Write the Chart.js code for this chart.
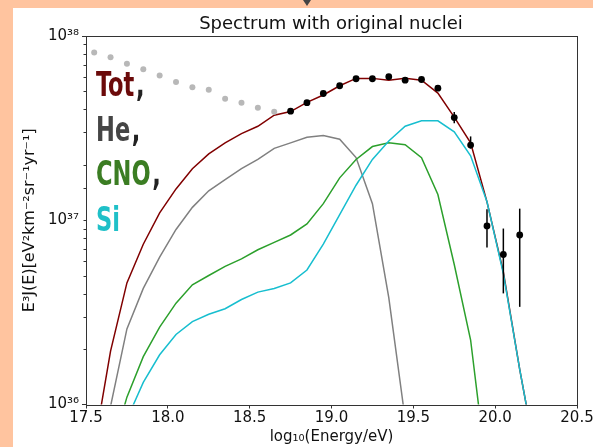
<!DOCTYPE html>
<html><head><meta charset="utf-8">
<script src="https://cdn.jsdelivr.net/npm/chart.js@4/dist/chart.umd.min.js"></script>
<style>
html,body{margin:0;padding:0;}
body{width:593px;height:447px;background:#FFC49F;position:relative;overflow:hidden;}
#panel{position:absolute;left:13px;top:8px;width:580px;height:439px;background:#fff;}
#c{position:absolute;left:0;top:0;}
#title{position:absolute;left:118px;top:6px;width:400px;text-align:center;font-family:'DejaVu Sans';font-size:18px;line-height:18px;color:#111;white-space:nowrap;}
.leg{position:absolute;left:83px;font-family:'DejaVu Sans Condensed','DejaVu Sans',sans-serif;font-weight:bold;font-size:33px;line-height:34px;font-stretch:condensed;white-space:nowrap;transform:scaleX(0.76);transform-origin:0 0;}
.cm{color:#222;margin-left:2px;}
#tri{position:absolute;left:303px;top:0;width:0;height:0;border-left:4px solid transparent;border-right:4px solid transparent;border-top:6px solid #444;}
</style></head>
<body>
<div id="tri"></div>
<div id="panel">
<canvas id="c" width="580" height="439"></canvas>
<div id="title">Spectrum with original nuclei</div>
<div class="leg" style="top:60px;color:#6b0a0a">Tot<span class="cm">,</span></div>
<div class="leg" style="top:105px;color:#454545">He<span class="cm">,</span></div>
<div class="leg" style="top:149px;color:#3b7d23">CNO<span class="cm">,</span></div>
<div class="leg" style="top:195px;color:#1fc0c8">Si</div>
</div>
<script>
// model energy grid, log10(E/eV)
const energy = [17.55,17.65,17.75,17.85,17.95,18.05,18.15,18.25,18.35,18.45,18.55,18.65,18.75,18.85,18.95,19.05,19.15,19.25,19.35,19.45,19.55,19.65,19.75,19.85,19.95,20.05,20.15,20.25];
// log10 of E^3 J(E)
const totLog = [35.77,36.29,36.66,36.87,37.04,37.17,37.28,37.36,37.42,37.47,37.51,37.57,37.59,37.64,37.68,37.73,37.77,37.77,37.76,37.77,37.76,37.69,37.56,37.42,37.10,36.72,36.19,35.71];
const heE = [17.55,17.65,17.75,17.85,17.95,18.05,18.15,18.25,18.35,18.45,18.55,18.65,18.75,18.85,18.95,19.05,19.15,19.25,19.35,19.45,19.55];
const heLog = [35.5,35.99,36.41,36.63,36.80,36.95,37.07,37.16,37.22,37.28,37.33,37.39,37.42,37.45,37.46,37.44,37.34,37.09,36.58,35.92,35.0];
const cnoE = [17.65,17.75,17.85,17.95,18.05,18.15,18.25,18.35,18.45,18.55,18.65,18.75,18.85,18.95,19.05,19.15,19.25,19.35,19.45,19.55,19.65,19.75,19.85,19.95];
const cnoLog = [35.73,36.04,36.26,36.42,36.55,36.65,36.70,36.75,36.79,36.84,36.88,36.92,36.98,37.09,37.23,37.33,37.40,37.42,37.41,37.34,37.14,36.76,36.35,35.62];
const siE = [17.75,17.85,17.95,18.05,18.15,18.25,18.35,18.45,18.55,18.65,18.75,18.85,18.95,19.05,19.15,19.25,19.35,19.45,19.55,19.65,19.75,19.85,19.95,20.05,20.15,20.25];
const siLog = [35.92,36.12,36.27,36.38,36.45,36.49,36.52,36.57,36.61,36.63,36.66,36.73,36.87,37.03,37.19,37.33,37.43,37.51,37.54,37.54,37.48,37.35,37.10,36.71,36.19,35.71];
// measured points below the fit range (grey)
const lowE = [17.55,17.65,17.75,17.85,17.95,18.05,18.15,18.25,18.35,18.45,18.55,18.65];
const lowLog = [37.91,37.885,37.85,37.82,37.786,37.75,37.722,37.708,37.66,37.638,37.61,37.589];
// measured points in fit range (black) with error bars
const dataE = [18.75,18.85,18.95,19.05,19.15,19.25,19.35,19.45,19.55,19.65,19.75,19.85,19.95,20.05,20.15];
const dataLog = [37.592,37.638,37.688,37.73,37.768,37.768,37.779,37.76,37.764,37.717,37.557,37.408,36.969,36.814,36.92];
const errLoLog = [null,null,null,null,null,null,null,null,null,null,37.527,37.389,36.852,36.603,36.53];
const errHiLog = [null,null,null,null,null,null,null,null,null,null,37.587,37.455,37.06,36.955,37.063];
const xTicks = [17.5,18.0,18.5,19.0,19.5,20.0,20.5];
const yTickLabels = {36:'10³⁶',37:'10³⁷',38:'10³⁸'};

function pts(xs, ls){ return ls.map((v,i)=>({x:xs[i], y:Math.pow(10,v)})); }

Chart.defaults.font.family = 'DejaVu Sans';
Chart.defaults.color = '#111';

const errPlugin = {
  id:'err',
  beforeDatasetDraw(chart, args){
    if (args.index !== 0) return;
    const xs = chart.scales.x, ys = chart.scales.y, ctx = chart.ctx;
    ctx.save(); ctx.strokeStyle='#000'; ctx.lineWidth=1.5;
    dataE.forEach((e,i)=>{
      if (errLoLog[i]==null) return;
      const px = xs.getPixelForValue(e);
      ctx.beginPath();
      ctx.moveTo(px, ys.getPixelForValue(Math.pow(10,errLoLog[i])));
      ctx.lineTo(px, ys.getPixelForValue(Math.pow(10,errHiLog[i])));
      ctx.stroke();
    });
    ctx.restore();
  },
  afterDraw(chart){
    const a = chart.chartArea, ctx = chart.ctx, ys = chart.scales.y;
    ctx.save(); ctx.strokeStyle='#333'; ctx.lineWidth=1;
    ctx.strokeRect(Math.round(a.left)+0.5, Math.round(a.top)+0.5, Math.round(a.right-a.left), Math.round(a.bottom-a.top));
    ys.ticks.forEach(t=>{
      if (t.major) return;
      const py = Math.round(ys.getPixelForValue(t.value))+0.5;
      ctx.beginPath(); ctx.moveTo(a.left-2.5, py); ctx.lineTo(a.left, py); ctx.stroke();
    });
    ctx.restore();
  }
};

new Chart(document.getElementById('c'), {
  type:'line',
  data:{datasets:[
    {data:pts(dataE,dataLog), showLine:false, pointRadius:3.4, pointBackgroundColor:'#000', pointBorderWidth:0},
    {data:pts(lowE,lowLog), showLine:false, pointRadius:3, pointBackgroundColor:'#b8b8b8', pointBorderWidth:0},
    {data:pts(siE,siLog), borderColor:'#17becf', borderWidth:1.5, pointRadius:0},
    {data:pts(cnoE,cnoLog), borderColor:'#2ca02c', borderWidth:1.5, pointRadius:0},
    {data:pts(heE,heLog), borderColor:'#808080', borderWidth:1.5, pointRadius:0},
    {data:pts(energy,totLog), borderColor:'#800000', borderWidth:1.5, pointRadius:0}
  ]},
  options:{
    responsive:false, animation:false, devicePixelRatio:1,
    layout:{padding:{left:0,right:16,top:28,bottom:0}},
    plugins:{legend:{display:false}, tooltip:{enabled:false}, title:{display:false}},
    scales:{
      x:{type:'linear', min:17.5, max:20.5,
        afterBuildTicks:s=>{s.ticks = xTicks.map(v=>({value:v}));},
        ticks:{callback:v=>v.toFixed(1), font:{size:15}, color:'#111', padding:1, maxRotation:0, autoSkip:false},
        grid:{drawOnChartArea:false, tickLength:4, color:'#333'},
        border:{display:false},
        title:{display:true, text:'log₁₀(Energy/eV)', font:{size:15}, color:'#111', padding:{top:1,bottom:1}},
        afterFit:s=>{s.height=42.5; s.paddingLeft=0; s.paddingRight=0;}
      },
      y:{type:'logarithmic', min:1e36, max:1e38,
        ticks:{autoSkip:false, font:{size:15}, color:'#111', padding:3,
          callback:(v)=>{const l=Math.round(Math.log10(v)); return Math.abs(Math.log10(v)-l)<1e-6 ? yTickLabels[l] : '';}},
        grid:{drawOnChartArea:false, tickLength:4, color:'#333',
          tickColor:(c)=> (c.tick && c.tick.major) ? '#333' : 'rgba(0,0,0,0)'},
        border:{display:false},
        title:{display:true, text:'E³J(E)[eV²km⁻²sr⁻¹yr⁻¹]', font:{size:16}, color:'#111', padding:{top:7,bottom:7}},
        afterFit:s=>{s.width=73; s.paddingTop=0; s.paddingBottom=0;}
      }
    }
  },
  plugins:[errPlugin]
});
</script>
</body></html>
